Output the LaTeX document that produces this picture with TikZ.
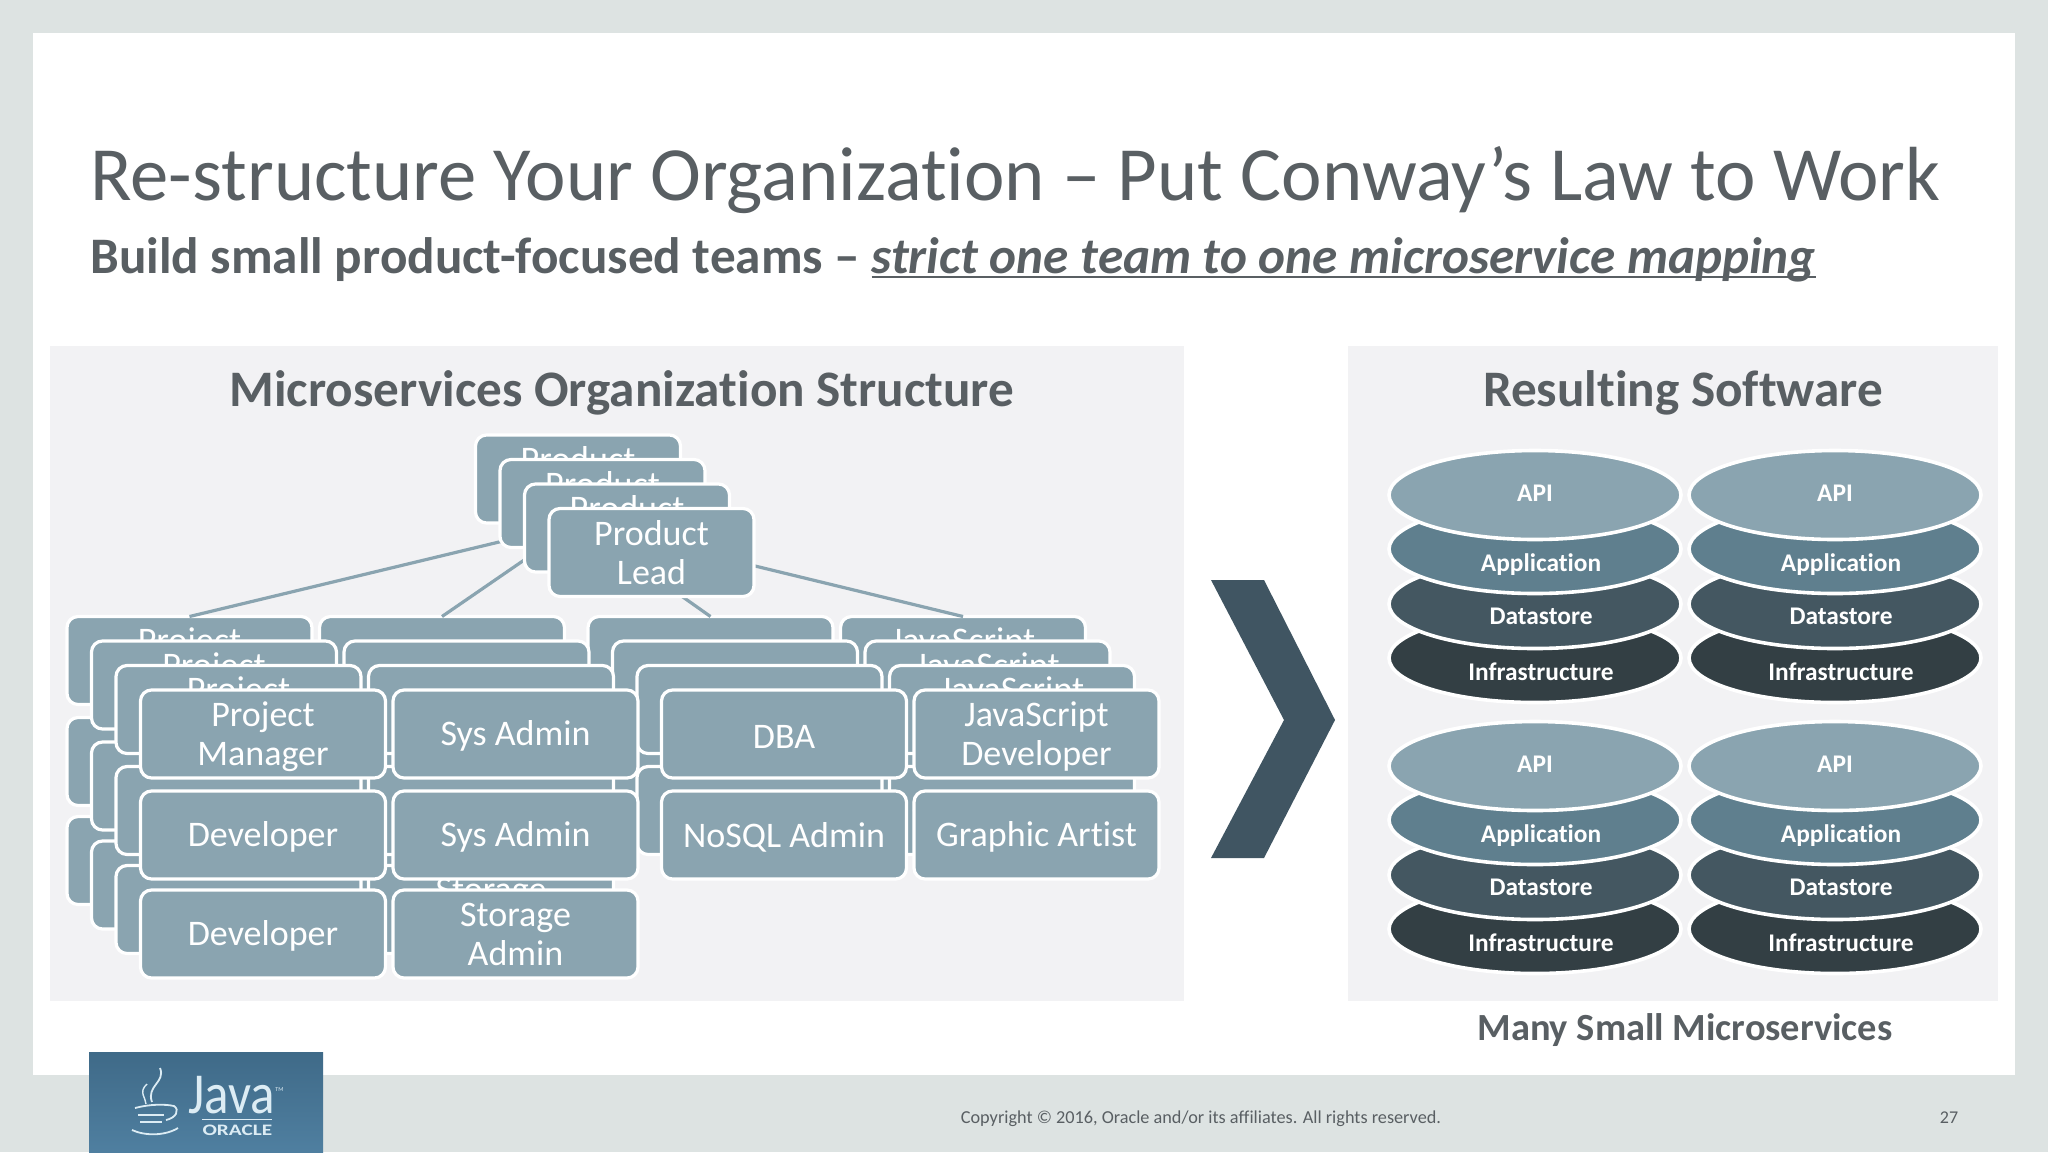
\documentclass[tikz,border=0pt]{standalone}
\usepackage{fontspec}
\setmainfont{Carlito}[Ligatures=CommonOff]
\usetikzlibrary{shapes.geometric}

\definecolor{slidegrey}{HTML}{DDE3E2}
\definecolor{panelgrey}{HTML}{F2F2F4}
\definecolor{titlegrey}{HTML}{595F63}
\definecolor{boxblue}{HTML}{8AA4B0}
\definecolor{appblue}{HTML}{5F7F8E}
\definecolor{storeslate}{HTML}{445761}
\definecolor{infraslate}{HTML}{333F44}
\definecolor{chevronslate}{HTML}{405562}
\definecolor{logotop}{HTML}{3F6A88}
\definecolor{logobottom}{HTML}{4F7FA0}
\definecolor{logoink}{HTML}{DCECF4}

\tikzset{
    rolebox/.style={draw=white, fill=boxblue, line width=1.6pt, rounded corners=5.5pt,
        minimum width=122.5pt, minimum height=44pt, inner sep=0pt, outer sep=0pt,
        align=center, text=white, font=\fontsize{18}{19.5}\selectfont},
    leadbox/.style={rolebox, minimum width=102.5pt},
    wire/.style={draw=boxblue, line width=1.6pt},
    disc/.style={draw=white, line width=1.8pt, shape=ellipse, inner sep=0pt,
        minimum width=146pt, minimum height=44.5pt},
    disclabel/.style={text=white, font=\fontsize{12.7}{14}\selectfont\bfseries},
    paneltitle/.style={text=titlegrey, font=\fontsize{25.6}{28}\selectfont\bfseries, anchor=base},
}

% heavier rule than \underline gives
\newcommand{\thickunder}[1]{\setbox0=\hbox{#1}\rlap{\rule[-2pt]{\wd0}{0.9pt}}\box0}
% taller first line, so the text sits a little lower in its box
\newcommand{\lowtext}{\rule{0pt}{14.6pt}}

% one layer of all the stacks, moved up and left by #2
\newcommand{\teamlayer}[2]{
    \node[leadbox] (lead#1) at (651.5-#2,552.5-#2) {Product\\Lead};
    \node[rolebox] (store#1) at (515.5-#2,934-#2) {Storage\\Admin};
    \foreach \who/\cx/\cy/\role in {
        pm/263/734/{\lowtext Project\\Manager}, dev/263/835/\lowtext Developer, devb/263/934/\lowtext Developer,
        sys/515.5/734/\lowtext Sys Admin, sysb/515.5/835/\lowtext Sys Admin,
        dba/784/734/\lowtext DBA, nosql/784/835/\lowtext NoSQL Admin,
        js/1036.5/734/{\lowtext JavaScript\\Developer}, art/1036.5/835/\lowtext Graphic Artist} {
        \node[rolebox] (\who#1) at (\cx-#2,\cy-#2) {\role};
    }
}

\begin{document}
\begin{tikzpicture}[x=0.5pt,y=-0.5pt]
    \useasboundingbox (0,0) rectangle (2048,1152);

    \fill [slidegrey] (0,0) rectangle (2048,1152);
    \fill [white] (33,33) rectangle (2015,1075);
    \fill [panelgrey] (50,346) rectangle (1184,1001);
    \fill [panelgrey] (1348,346) rectangle (1998,1001);

    \node [anchor=base west, inner sep=0pt, text=titlegrey, font=\fontsize{38.35}{40}\selectfont] (title) at (90,200)
        {Re-structure Your Organization – Put Conway’s Law to Work};
    \node [anchor=base west, inner sep=0pt, text=titlegrey, font=\fontsize{25.6}{28}\selectfont\bfseries] (subtitle) at (90,273.5)
        {Build small product-focused teams – \thickunder{\itshape strict one team to one microservice mapping}};

    \node [paneltitle] (orgtitle) at (622,406) {Microservices Organization Structure};
    \node [paneltitle] (softtitle) at (1683,406) {Resulting Software};

    % the stacks, back to front
    \teamlayer{3}{73.5}
    \draw [wire] (lead3.south) -- (pm3.north);
    \draw [wire] (lead3.south) -- (sys3.north);
    \draw [wire] (lead3.south) -- (dba3.north);
    \draw [wire] (lead3.south) -- (js3.north);
    \teamlayer{2}{49}
    \teamlayer{1}{24.5}
    \teamlayer{0}{0}

    \fill [chevronslate] (1211,580) -- (1264,580) -- (1335,720) -- (1264,858) -- (1211,858) -- (1284,720) -- cycle;

    % four services, bottom disc first
    \foreach \sid/\sx/\sy in {a/1535/495, b/1835/495, c/1535/766, d/1835/766} {
        \node [disc, fill=infraslate] (infra\sid) at (\sx,\sy+163) {};
        \node [disclabel] (infratext\sid) at (\sx+6,\sy+177) {Infrastructure};
        \node [disc, fill=storeslate] (store\sid) at (\sx,\sy+109) {};
        \node [disclabel] (storetext\sid) at (\sx+6,\sy+121.5) {Datastore};
        \node [disc, fill=appblue] (app\sid) at (\sx,\sy+54) {};
        \node [disclabel] (apptext\sid) at (\sx+6,\sy+70) {Application};
        \node [disc, fill=boxblue] (api\sid) at (\sx,\sy) {};
        \node [disclabel] (apitext\sid) at (\sx,\sy-2) {API};
    }

    \node [anchor=base, text=titlegrey, font=\fontsize{19.2}{22}\selectfont\bfseries] (many) at (1685,1040) {Many Small Microservices};
    \node [anchor=base, text=titlegrey, font=\fontsize{9.12}{11}\selectfont] (copyright) at (1201,1123)
        {Copyright © 2016, Oracle and/or its affiliates. All rights reserved.};
    \node [anchor=base, text=titlegrey, font=\fontsize{9}{11}\selectfont] (pagenum) at (1949,1123) {27};

    % logo
    \shade [top color=logotop, bottom color=logobottom] (89,1052) rectangle (323,1152);
    \node [anchor=base west, inner sep=0pt, xscale=0.88, text=logoink, font=\fontsize{29}{32}\selectfont] (javaword) at (188,1113) {Java};
    \node [anchor=base west, inner sep=0pt, text=logoink, font=\fontsize{3}{4}\selectfont] (tm) at (275,1091) {TM};
    \node [anchor=base west, inner sep=0pt, xscale=1.33, text=logoink, font=\fontsize{8}{9}\selectfont\bfseries] (oracle) at (202,1135) {ORACLE};
    \draw [logoink, line width=0.4pt] (202,1119) -- (272,1119);
    \draw [logoink, line width=0.9pt] (160,1068) .. controls (166,1082) and (146,1086) .. (152,1102);
    \draw [logoink, line width=0.7pt] (147,1084) .. controls (138,1092) and (146,1098) .. (146,1104);
    \draw [logoink, line width=0.9pt] (135,1108) .. controls (150,1104) and (165,1104) .. (174,1106) .. controls (180,1110) and (176,1118) .. (166,1120);
    \draw [logoink, line width=0.9pt] (138,1115) -- (164,1115);
    \draw [logoink, line width=0.9pt] (140,1122) -- (162,1122);
    \draw [logoink, line width=0.9pt] (132,1130) .. controls (145,1136) and (165,1136) .. (178,1128);
\end{tikzpicture}
\end{document}
